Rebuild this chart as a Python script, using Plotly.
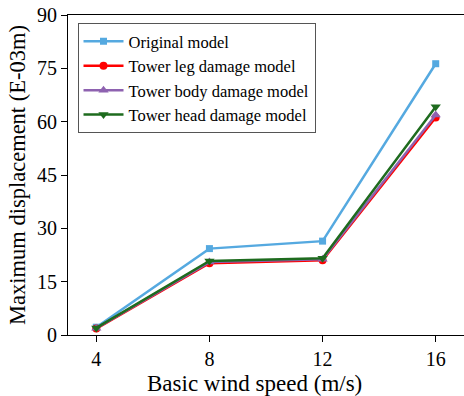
import plotly.graph_objects as go

# Basic wind speed (m/s)
wind_speed = [4, 8, 12, 16]

# Maximum displacement (E-03 m) for each model
original_model = [2.2, 24.3, 26.4, 76.3]
tower_leg_damage = [1.8, 20.2, 21.0, 61.2]
tower_body_damage = [1.9, 20.5, 21.3, 61.9]
tower_head_damage = [2.0, 20.8, 21.6, 64.2]

y_ticks = [0, 15, 30, 45, 60, 75, 90]

series = [
    ("Original model", original_model, "#55A9E0", "square", 7),
    ("Tower leg damage model", tower_leg_damage, "#FF0000", "circle", 8),
    ("Tower body damage model", tower_body_damage, "#8E62B0", "triangle-up", 9),
    ("Tower head damage model", tower_head_damage, "#1E6B1E", "triangle-down", 9),
]

fig = go.Figure()
for name, values, color, symbol, size in series:
    fig.add_trace(go.Scatter(
        x=wind_speed, y=values, name=name, mode="lines+markers",
        line=dict(color=color, width=2.5),
        marker=dict(symbol=symbol, size=size, color=color),
    ))

font_family = "Liberation Serif"
fig.update_layout(
    width=464, height=396,
    margin=dict(l=68, r=0, t=15, b=61),
    paper_bgcolor="white", plot_bgcolor="white",
    font=dict(family=font_family, color="black", size=18),
    showlegend=True,
    legend=dict(
        x=0.024, y=0.975, xanchor="left", yanchor="top",
        bordercolor="#555555", borderwidth=1, bgcolor="white",
        font=dict(size=16.5, family=font_family),
        tracegroupgap=0, itemwidth=40,
    ),
    annotations=[dict(
        text="Basic wind speed (m/s)", xref="paper", yref="paper",
        x=0.47, y=-0.15, xanchor="center", yanchor="middle",
        showarrow=False, font=dict(size=23, family=font_family, color="black"),
    )],
)
fig.update_xaxes(
    range=[3, 17], tickvals=wind_speed, ticks="outside", ticklen=6,
    tickwidth=1, tickcolor="black",
    showline=True, linecolor="black", linewidth=1.2, mirror=True,
    showgrid=False, zeroline=False,
    tickfont=dict(size=20, family=font_family),
)
fig.update_yaxes(
    range=[0, 90], tickvals=y_ticks, ticks="outside", ticklen=6,
    tickwidth=1, tickcolor="black",
    showline=True, linecolor="black", linewidth=1.2, mirror=False,
    showgrid=False, zeroline=False,
    title=dict(text="Maximum displacement (E-03m)", font=dict(size=22.5, family=font_family), standoff=5),
    tickfont=dict(size=20, family=font_family),
)

fig.write_html("out.html")
